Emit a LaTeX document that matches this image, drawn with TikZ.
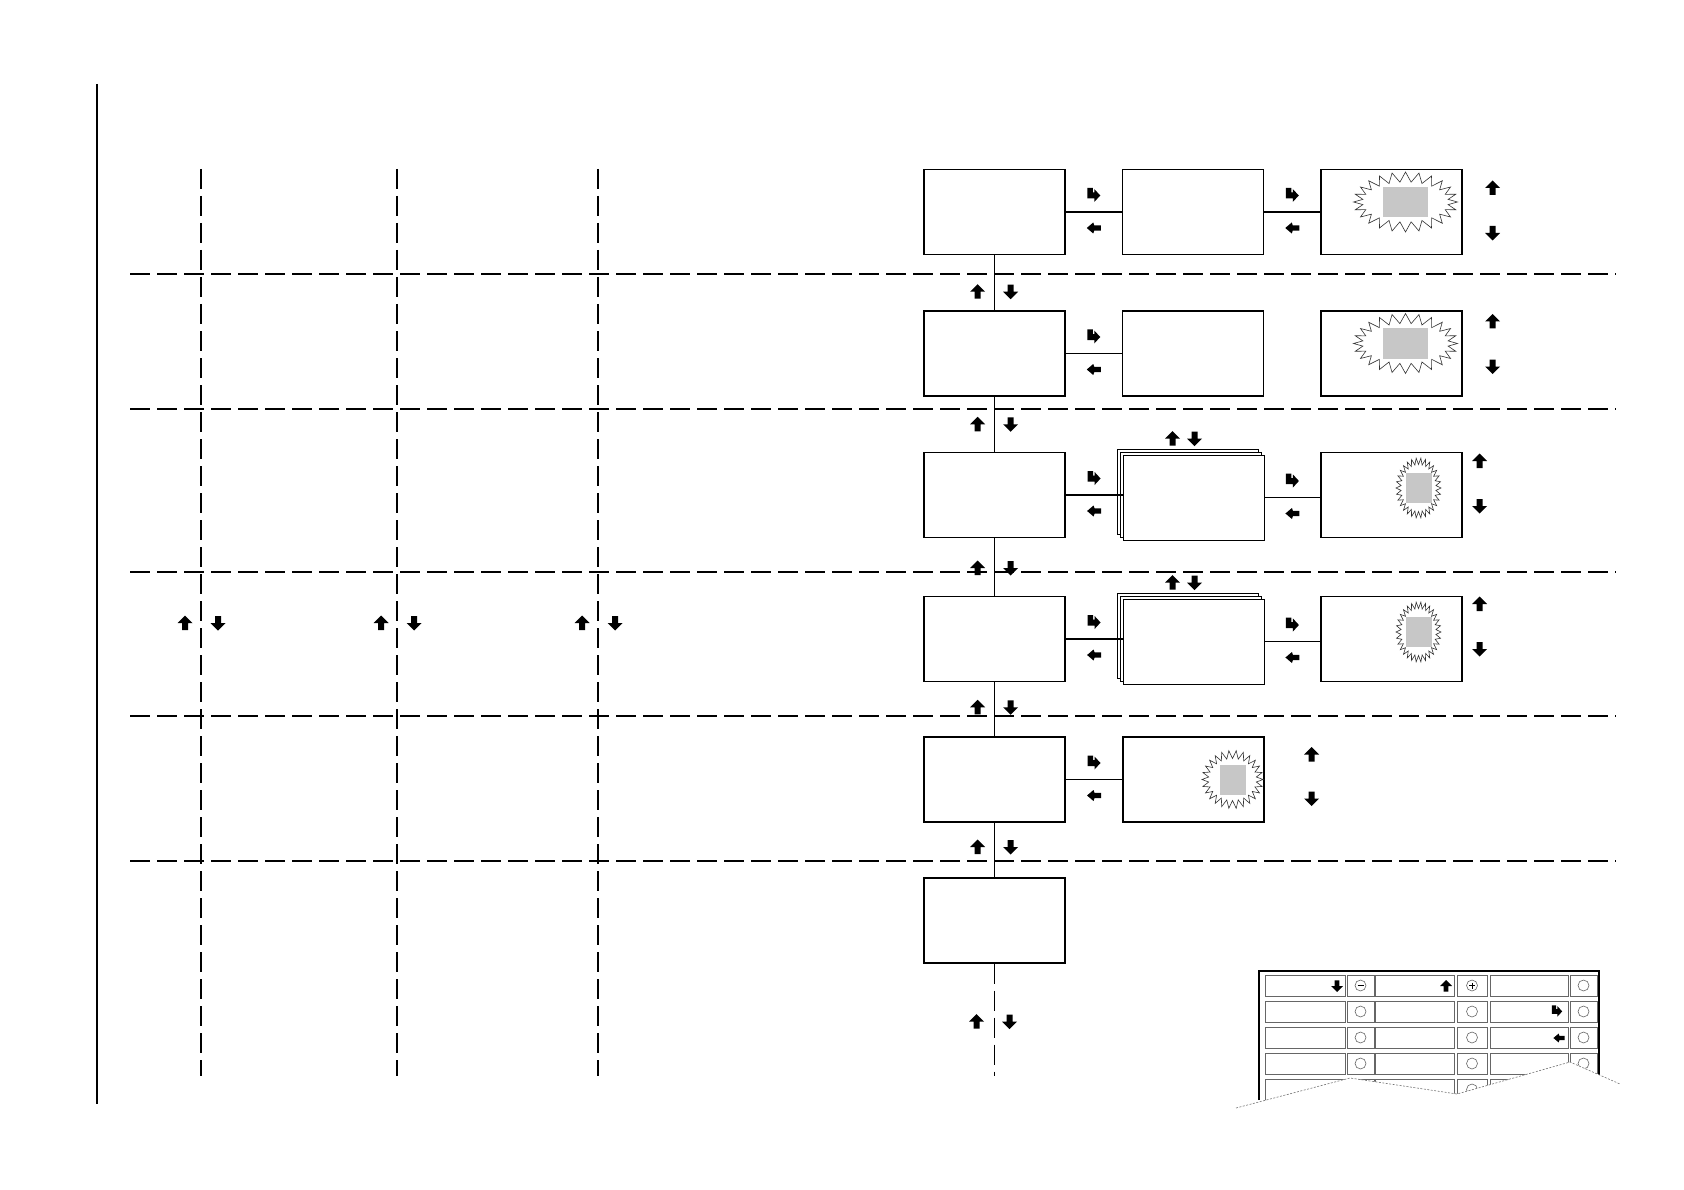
\documentclass[tikz,border=0pt]{standalone}
\usetikzlibrary{calc,shadows}

\tikzset{
  screen/.style={draw, fill=white, line width=1.2pt, minimum width=141pt, minimum height=85pt, inner sep=0pt},
  stackscreen/.style={screen, line width=0.9pt,
    copy shadow={shadow xshift=-5.4pt, shadow yshift=5.6pt},
    copy shadow={shadow xshift=-2.7pt, shadow yshift=2.8pt}},
  link/.style={line width=1.1pt},
  lane/.style={line width=1.2pt, dash pattern=on 20pt off 7pt},
  burstline/.style={draw=black!80, line width=0.6pt},
  glass/.style={fill=black!22},
  key/.style={draw=black!60, line width=0.7pt},
  tear/.style={draw=black!55, line width=0.6pt, dash pattern=on 2pt off 1.5pt},
  pics/uparr/.style={code={\fill (0,-7.5) -- (7.5,0) -- (3,0) -- (3,7) -- (-3,7) -- (-3,0) -- (-7.5,0) -- cycle;}},
  pics/dnarr/.style={code={\fill (0,7.5) -- (7.5,0) -- (3,0) -- (3,-7) -- (-3,-7) -- (-3,0) -- (-7.5,0) -- cycle;}},
  pics/lfarr/.style={code={\fill (-7,0) -- (-0.5,-5.5) -- (0.5,-2.6) -- (7,-2.6) -- (7,2.6) -- (0.5,2.6) -- (-0.5,5.5) -- cycle;}},
  pics/bentarr/.style={code={\fill (-6.5,-7) -- (-1,-7) -- (-1,-2.5) -- (0.5,-2.5) -- (0.5,-6) -- (6.5,0.5) -- (0.5,7) -- (0.5,3.5) -- (-6.5,3.5) -- cycle;}},
}

\begin{document}
\begin{tikzpicture}[x=1pt, y=-1pt]
        \useasboundingbox (0,0) rectangle (1684,1190);

        % Margin Line
        \draw[line width=1.3pt] (97,84) -- (97,1104);

        % Lane Separators
        \foreach \lx in {201, 397, 598} {
            \draw[lane] (\lx,169) -- (\lx,1076);
            \pic at (\lx-16,623) {uparr};
            \pic at (\lx+17,623) {dnarr};
        }
        \foreach \ly in {274, 409, 572, 716, 861} {
            \draw[lane] (130,\ly) -- (1616,\ly);
        }

        % Screens
        \node[screen] (s11) at (994.5,212) {};
        \node[screen] (s12) at (1193,212) {};
        \node[screen] (s13) at (1391.5,212) {};
        \node[screen] (s21) at (994.5,353.5) {};
        \node[screen] (s22) at (1193,353.5) {};
        \node[screen] (s23) at (1391.5,353.5) {};
        \node[screen] (s31) at (994.5,495) {};
        \node[stackscreen] (s32) at (1193.5,497.5) {};
        \node[screen] (s33) at (1391.5,495) {};
        \node[screen] (s41) at (994.5,639) {};
        \node[stackscreen] (s42) at (1193.5,641.5) {};
        \node[screen] (s43) at (1391.5,639) {};
        \node[screen] (s51) at (994.5,779.5) {};
        \node[screen] (s52) at (1193.5,779.5) {};
        \node[screen] (s61) at (994.5,920.5) {};
        \coordinate (tail) at (994.5,1076);

        % Flashing Fields
        \foreach \n/\ox/\oy/\rx/\ry/\ix/\iy/\m/\gw in {s13/14/-10/52/30/43/20/24/45, s23/14/-10/52/30/43/20/24/45,
                s33/27/-7/22.5/30/17.5/23.5/30/26, s43/27/-7/22.5/30/17.5/23.5/30/26, s52/39/0/30.5/29/24/21/26/26} {
            \pgfmathsetmacro\st{180/\m}
            \begin{scope}[shift={($(\n.center)+(\ox,\oy)$)}]
                \draw[burstline] (\rx,0)
                    \foreach \k in {1,...,\m} {
                        -- ({\ix*cos((2*\k-1)*\st)}, {\iy*sin((2*\k-1)*\st)})
                        -- ({\rx*cos(2*\k*\st)}, {\ry*sin(2*\k*\st)})
                    } -- cycle;
                \fill[glass] (-\gw/2,-15) rectangle (\gw/2,15);
            \end{scope}
        }

        % Side Links
        \foreach \a/\b in {s11/s12, s12/s13, s21/s22, s31/s32, s32/s33, s41/s42, s42/s43, s51/s52} {
            \draw[link] (\a.east) -- (\a.east -| \b.west);
            \pic at ($(\a.east)!0.5!(\a.east -| \b.west)+(0,-17)$) {bentarr};
            \pic at ($(\a.east)!0.5!(\a.east -| \b.west)+(0,16)$) {lfarr};
        }

        % Down Links
        \foreach \a/\b/\dy in {s11/s21/9, s21/s31/0, s31/s41/1, s41/s51/-2, s51/s61/-3} {
            \draw[link] (\a.south) -- (\b.north);
            \pic at ($(\a.south)!0.5!(\b.north)+(-17,\dy)$) {uparr};
            \pic at ($(\a.south)!0.5!(\b.north)+(16,\dy)$) {dnarr};
        }
        \draw[lane] (s61.south) -- (tail);
        \pic at ($(s61.south)+(-18,58)$) {uparr};
        \pic at ($(s61.south)+(15,58)$) {dnarr};

        % Scroll Keys
        \foreach \n/\dx/\uy/\dy in {s13/30/-24/21, s23/30/-32/13, s33/17/-34/11, s43/17/-35/10, s52/47/-25/19} {
            \pic at ($(\n.east)+(\dx,\uy)$) {uparr};
            \pic at ($(\n.east)+(\dx,\dy)$) {dnarr};
        }
        \foreach \n in {s32, s42} {
            \pic at ($(\n.north)+(-21,-16)$) {uparr};
            \pic at ($(\n.north)+(1,-16)$) {dnarr};
        }

        % Keypad
        \draw[line width=1.6pt] (1259,1100) -- (1259,971) -- (1599,971) -- (1599,1076);
        \foreach \r in {0,...,4} {
            \foreach \kx/\kw in {1265/80, 1375/79, 1490/78} {
                \draw[key] (\kx,{975+26*\r}) rectangle ++(\kw,21);
            }
            \foreach \kx/\kw in {1347/27, 1457/30, 1570/27} {
                \draw[key] (\kx,{975+26*\r}) rectangle ++(\kw,21);
                \draw[key, line width=0.6pt] ({\kx+\kw/2},{985.5+26*\r}) circle (5.5);
            }
        }
        \draw[line width=0.7pt] (1357.5,985.5) -- (1363.5,985.5);
        \draw[line width=0.7pt] (1469,985.5) -- (1475,985.5) (1472,982.5) -- (1472,988.5);
        \pic[scale=0.8] at (1337,986) {dnarr};
        \pic[scale=0.8] at (1446,986) {uparr};
        \pic[scale=0.8] at (1557,1011) {bentarr};
        \pic[scale=0.8] at (1559,1038) {lfarr};

        % Torn Edge
        \fill[white] (1236,1108) -- (1350,1078) -- (1457,1094) -- (1570,1062) -- (1620,1084) -- (1620,1125) -- (1236,1125) -- cycle;
        \draw[tear] (1236,1108) -- (1350,1078) -- (1457,1094) -- (1570,1062) -- (1620,1084);
    \end{tikzpicture}
\end{document}
